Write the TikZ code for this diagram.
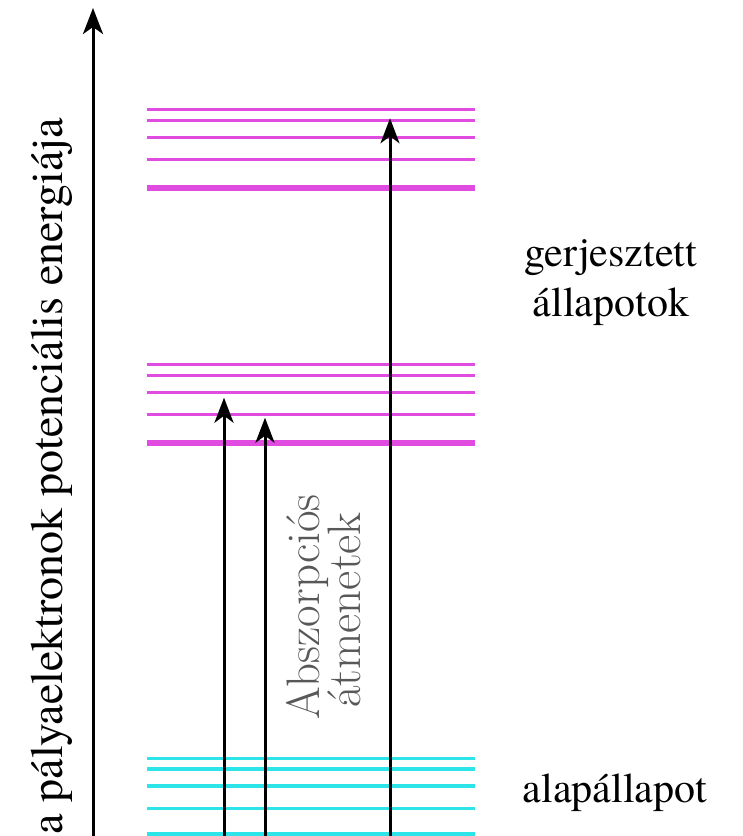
\documentclass[tikz,border=0pt]{standalone}
\usepackage{fontspec}
\newfontfamily\tnrfont{texgyretermes-regular.otf}
\newfontfamily\lmfont{Latin Modern Roman}
\usetikzlibrary{arrows.meta}
\definecolor{lvlmag}{RGB}{224,76,224}
\definecolor{lvlcyan}{RGB}{45,228,232}
\definecolor{greytxt}{RGB}{88,88,88}
\tikzset{
  lvlthin/.style={line width=3.2pt},
  lvlthick/.style={line width=5.6pt},
  trans/.style={line width=3pt, -{Stealth[length=25pt,width=19pt,inset=7pt]}},
  lbl/.style={inner sep=0pt, anchor=base, font=\tnrfont\fontsize{42}{46}\selectfont},
}
\begin{document}
\begin{tikzpicture}[x=1pt,y=-1pt]
\useasboundingbox (0,0) rectangle (743,836);
% axis
\coordinate (axb) at (93,840);
\coordinate (axt) at (93,8);
\draw[line width=3pt, -{Stealth[length=26pt,width=20pt,inset=7pt]}] (axb) -- (axt);
\node[lbl, rotate=90, font=\tnrfont\fontsize{46}{50}\selectfont] (axl) at (62,476) {a pályaelektronok potenciális energiája};
% top group
\foreach \y [count=\i] in {109.3,120.7,137.3,159.7}
  \draw[lvlmag, lvlthin] (147,\y) coordinate (t\i l) -- (475,\y) coordinate (t\i r);
\draw[lvlmag, lvlthick] (147,187.7) coordinate (t5l) -- (475,187.7) coordinate (t5r);
% middle group
\foreach \y [count=\i] in {364.3,375.3,392.3,414.3}
  \draw[lvlmag, lvlthin] (147,\y) coordinate (m\i l) -- (475,\y) coordinate (m\i r);
\draw[lvlmag, lvlthick] (147,442.7) coordinate (m5l) -- (475,442.7) coordinate (m5r);
% bottom group
\foreach \y [count=\i] in {758.3,769,786,808.7}
  \draw[lvlcyan, lvlthin] (147,\y) coordinate (b\i l) -- (475,\y) coordinate (b\i r);
\draw[lvlcyan, lvlthick] (147,835) coordinate (b5l) -- (475,835) coordinate (b5r);
% transitions
\coordinate (a1s) at (224,840); \coordinate (a1e) at (224,397.7);
\coordinate (a2s) at (265,840); \coordinate (a2e) at (265,417.7);
\coordinate (a3s) at (390,840); \coordinate (a3e) at (390,118.3);
\draw[trans] (a1s) -- (a1e);
\draw[trans] (a2s) -- (a2e);
\draw[trans] (a3s) -- (a3e);
% labels
\node[lbl] (gerj) at (611,266) {gerjesztett};
\node[lbl] (allap) at (611,316) {állapotok};
\node[lbl] (alap) at (615,802) {alapállapot};
\node[lbl, rotate=90, text=greytxt, font=\lmfont\fontsize{47}{50}\selectfont] (absz) at (319,607) {Abszorpciós};
\node[lbl, rotate=90, text=greytxt, font=\lmfont\fontsize{47}{50}\selectfont] (atm) at (360,610) {átmenetek};
\end{tikzpicture}
\end{document}
